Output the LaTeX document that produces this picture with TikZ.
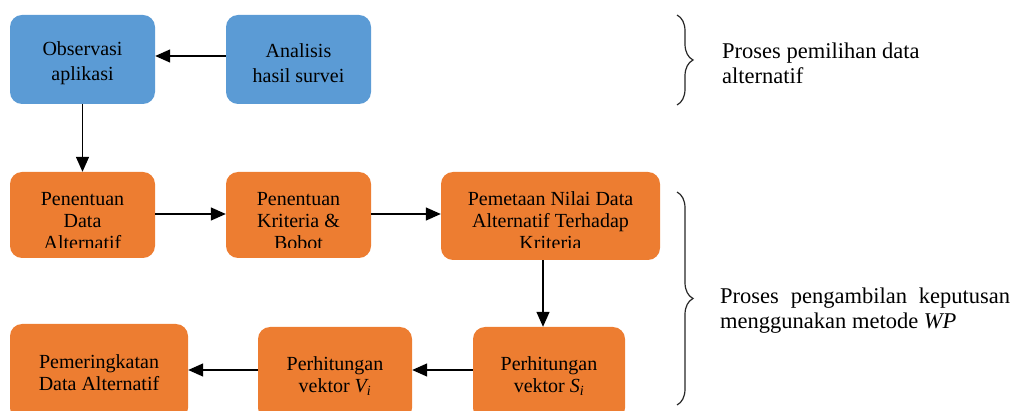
\documentclass[tikz,border=0pt]{standalone}
\usepackage{fontspec}
\setmainfont{Liberation Serif}
\usetikzlibrary{arrows.meta,decorations.pathreplacing}
\definecolor{boxblue}{HTML}{5B9BD5}
\definecolor{boxorange}{HTML}{ED7D31}
\begin{document}
\begin{tikzpicture}[x=1pt,y=-1pt,
  box/.style={rounded corners=12pt, inner sep=0pt, draw=none},
  bluebox/.style={box, fill=boxblue},
  orangebox/.style={box, fill=boxorange},
  bluetxt/.style={inner sep=0pt, align=center, font=\fontsize{20}{25}\selectfont},
  orangetxt/.style={inner sep=0pt, align=center, font=\fontsize{20}{22}\selectfont},
  sidetxt/.style={inner sep=0pt, align=left, anchor=west, font=\fontsize{22.5}{25}\selectfont},
  arr/.style={line width=1.4pt, -{Triangle[length=15pt,width=13pt]}},
  bracestyle/.style={line width=1.2pt, draw=black!85, decorate, decoration={brace, amplitude=16pt}}
]
\useasboundingbox (0,0) rectangle (1014,411);
\clip (0,0) rectangle (1014,411);

% top row
\node[bluebox, minimum width=145pt, minimum height=89pt] (obs) at (82.5,59.5) {};
\node[bluebox, minimum width=145pt, minimum height=89pt] (ana) at (298.5,59.5) {};
\node[bluetxt] (obst) at (82.5,63) {Observasi\\aplikasi};
\node[bluetxt] (anat) at (298.5,63) {Analisis\\hasil survei};

% middle row
\node[orangebox, minimum width=145pt, minimum height=86pt] (pd) at (82.5,215) {};
\node[orangebox, minimum width=145pt, minimum height=86pt] (pk) at (298.5,215) {};
\node[orangebox, minimum width=219pt, minimum height=88pt] (pm) at (550.5,216) {};
\begin{scope}
  \clip (0,160) rectangle (700,248);
  \node[orangetxt] (pdt) at (82.5,221) {Penentuan\\Data\\Alternatif};
  \node[orangetxt] (pkt) at (298.5,221) {Penentuan\\Kriteria \&\\Bobot};
  \node[orangetxt] (pmt) at (550.5,221) {Pemetaan Nilai Data\\Alternatif Terhadap\\Kriteria};
\end{scope}

% bottom row
\node[orangebox, minimum width=178pt, minimum height=96pt] (pr) at (99,372) {};
\node[orangebox, minimum width=154pt, minimum height=93pt] (pv) at (335,373.5) {};
\node[orangebox, minimum width=152pt, minimum height=93pt] (ps) at (549,373.5) {};
\node[orangetxt] (prt) at (99,373) {Pemeringkatan\\Data Alternatif};
\node[orangetxt] (pvt) at (335,376) {Perhitungan\\vektor \textit{V\textsubscript{i}}};
\node[orangetxt] (pst) at (549,376) {Perhitungan\\vektor \textit{S\textsubscript{i}}};

% connectors
\coordinate (ytop) at (0,56);
\coordinate (ymid) at (0,214);
\coordinate (xdown) at (543,0);
\coordinate (ybot) at (0,370);
\draw[arr] (ana.west |- ytop) -- (obs.east |- ytop);
\draw[arr] (obs.south) -- (pd.north);
\draw[arr] (pd.east |- ymid) -- (pk.west |- ymid);
\draw[arr] (pk.east |- ymid) -- (pm.west |- ymid);
\draw[arr] (pm.south -| xdown) -- (ps.north -| xdown);
\draw[arr] (ps.west |- ybot) -- (pv.east |- ybot);
\draw[arr] (pv.west |- ybot) -- (pr.east |- ybot);

% braces
\coordinate (b1a) at (677,15);
\coordinate (b1b) at (677,105);
\coordinate (b2a) at (677,192);
\coordinate (b2b) at (677,405);
\draw[bracestyle] (b1a) -- (b1b);
\draw[bracestyle] (b2a) -- (b2b);

% side labels
\node[sidetxt] (s1) at (722,63) {Proses pemilihan data\\alternatif};
\node[sidetxt] (s2) at (720,311) {\makebox[290pt][s]{Proses pengambilan keputusan}\\menggunakan metode \textit{WP}};
\end{tikzpicture}
\end{document}
